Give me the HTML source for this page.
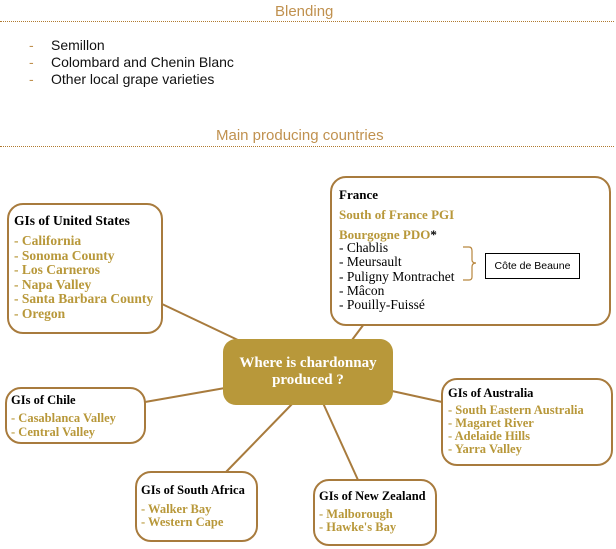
<!DOCTYPE html>
<html><head><meta charset="utf-8"><style>
body{margin:0;width:616px;height:549px;background:#fff;position:relative;overflow:hidden;font-family:"Liberation Serif",serif}
.t{position:absolute;font-family:"Liberation Sans",sans-serif;color:#c0914f;font-size:15px;white-space:nowrap}
.hr{position:absolute;left:0;width:614px;border-top:1px dotted #b07a30}
.bl{position:absolute;font-family:"Liberation Sans",sans-serif;font-size:14px;color:#111;white-space:nowrap}
.bl span{position:absolute;left:-22px;color:#c0914f}
.box{position:absolute;border:2px solid #a87b3d;border-radius:16px;background:#fff;box-sizing:border-box}
.x{position:absolute;white-space:nowrap;font-size:12.5px;line-height:13px}
.h{font-weight:bold;color:#000}
.g{font-weight:bold;color:#b8983a}
.k{color:#000;font-size:13.5px}
</style></head><body>
<div class="t" style="left:275px;top:3px">Blending</div>
<div class="hr" style="top:21px"></div>
<div class="bl" style="left:51px;top:37px"><span>-</span>Semillon</div>
<div class="bl" style="left:51px;top:54px"><span>-</span>Colombard and Chenin Blanc</div>
<div class="bl" style="left:51px;top:71px"><span>-</span>Other local grape varieties</div>
<div class="t" style="left:216px;top:127px">Main producing countries</div>
<div class="hr" style="top:146px"></div>

<svg width="616" height="549" style="position:absolute;left:0;top:0">
<g stroke="#a87b3d" stroke-width="2">
<line x1="162" y1="304" x2="240" y2="341"/>
<line x1="145" y1="402" x2="225" y2="388"/>
<line x1="293" y1="403" x2="226" y2="472"/>
<line x1="323" y1="403" x2="358" y2="480"/>
<line x1="392" y1="391" x2="442" y2="402"/>
<line x1="364" y1="324" x2="352" y2="340"/>
</g></svg>

<div class="box" style="left:7px;top:203px;width:156px;height:131px"></div>
<div class="x h" style="left:14px;top:214px;font-size:13.5px">GIs of United States</div>
<div class="x g" style="left:14px;top:234px;line-height:14.5px;font-size:13.5px">- California<br>- Sonoma County<br>- Los Carneros<br>- Napa Valley<br>- Santa Barbara County<br>- Oregon</div>

<div class="box" style="left:330px;top:176px;width:281px;height:150px"></div>
<div class="x h" style="left:339px;top:188px;font-size:13px">France</div>
<div class="x g" style="left:339px;top:208px;font-size:13px">South of France PGI</div>
<div class="x g" style="left:339px;top:228px;font-size:13px">Bourgogne PDO<span style="color:#000">*</span></div>
<div class="x k" style="left:339px;top:241px;line-height:14.3px">- Chablis<br>- Meursault<br>- Puligny Montrachet<br>- Mâcon<br>- Pouilly-Fuissé</div>
<svg width="20" height="40" style="position:absolute;left:462px;top:245px"><path d="M1 2 H7 Q10 2 10 6 V15 Q10 18 14 18 Q10 18 10 22 V32 Q10 35 7 35 H1" fill="none" stroke="#b8863d" stroke-width="1.2"/></svg>
<div style="position:absolute;left:485px;top:253px;width:95px;height:26px;border:1px solid #000;box-sizing:border-box;font-family:'Liberation Sans',sans-serif;font-size:10.5px;text-align:center;line-height:24px">Côte de Beaune</div>

<div style="position:absolute;left:223px;top:339px;width:170px;height:66px;background:#b8983a;border-radius:13px;color:#fff;font-weight:bold;font-size:15px;text-align:center;line-height:17px;padding-top:16px;box-sizing:border-box">Where is chardonnay<br>produced ?</div>

<div class="box" style="left:5px;top:387px;width:141px;height:57px"></div>
<div class="x h" style="left:11px;top:394px;font-size:12.5px">GIs of Chile</div>
<div class="x g" style="left:11px;top:412px;line-height:13.5px">- Casablanca Valley<br>- Central Valley</div>

<div class="box" style="left:441px;top:378px;width:172px;height:88px"></div>
<div class="x h" style="left:448px;top:387px;font-size:12.5px">GIs of Australia</div>
<div class="x g" style="left:448px;top:404px">- South Eastern Australia<br>- Magaret River<br>- Adelaide Hills<br>- Yarra Valley</div>

<div class="box" style="left:135px;top:471px;width:123px;height:71px"></div>
<div class="x h" style="left:141px;top:484px;font-size:12.5px">GIs of South Africa</div>
<div class="x g" style="left:141px;top:503px">- Walker Bay<br>- Western Cape</div>

<div class="box" style="left:313px;top:479px;width:124px;height:67px"></div>
<div class="x h" style="left:319px;top:490px;font-size:12.5px">GIs of New Zealand</div>
<div class="x g" style="left:319px;top:508px">- Malborough<br>- Hawke's Bay</div>
</body></html>
